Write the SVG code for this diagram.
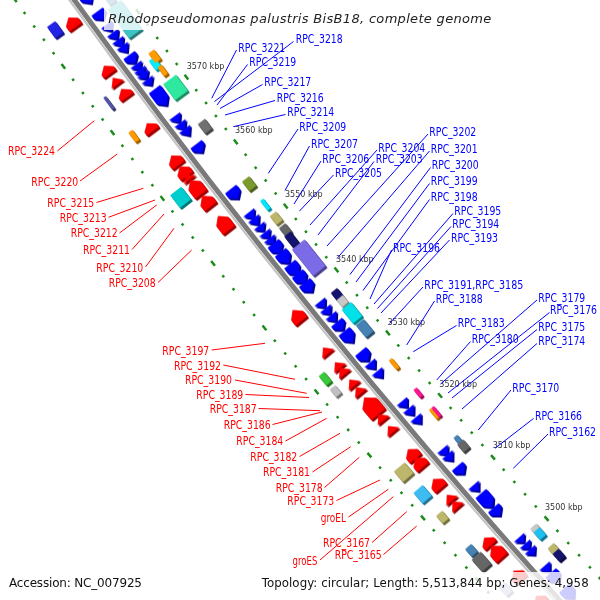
<svg xmlns="http://www.w3.org/2000/svg" width="600" height="600" viewBox="0 0 600 600">
<style>
text{font-family:"DejaVu Sans","Liberation Sans",sans-serif}
.lb{font-family:"Liberation Sans Narrow","Liberation Sans",Arial,sans-serif;font-size:11.5px}
.b{fill:#0000ff}
.r{fill:#ff0000}
.ldb line{stroke:#0000ff;stroke-width:1}
.ldr line{stroke:#ff0000;stroke-width:1}
.tk{font-size:8px;fill:#333}
.rd{fill:#ff0000}
.bl{fill:#0000ff}
.dots{fill:none;stroke:#1a8c1a;stroke-width:2.5}
</style>
<defs>
<filter id="ext" x="-0.1" y="-0.1" width="1.2" height="1.2" color-interpolation-filters="sRGB">
<feColorMatrix in="SourceGraphic" type="matrix" values="0.6 0 0 0 0 0 0.6 0 0 0 0 0 0.6 0 0 0 0 0 1 0" result="dk"/>
<feOffset in="dk" dx="1" dy="1" result="d1"/>
<feOffset in="dk" dx="2" dy="2" result="d2"/>
<feMerge><feMergeNode in="d2"/><feMergeNode in="d1"/><feMergeNode in="SourceGraphic"/></feMerge>
</filter>
<path id="r6" d="M-3 0L3-7.5V7.5Z"/>
<path id="r8" d="M-4 0L4-7.5V7.5Z"/>
<path id="r10" d="M-5 0L1-7.5H5V7.5H1Z"/>
<path id="r12" d="M-6 0L0-7.5H6V7.5H0Z"/>
<path id="r14" d="M-7 0L0-7.5H7V7.5H0Z"/>
<path id="r16" d="M-8 0L-1-7.5H8V7.5H-1Z"/>
<path id="r18" d="M-9 0L-2-7.5H9V7.5H-2Z"/>
<path id="r22" d="M-11 0L-3-9H11V9H-3Z"/>
<path id="b7" d="M3.5 0L-3.5-7V7Z"/>
<path id="b8" d="M4 0L-4-7V7Z"/>
<path id="b10" d="M5 0L-1-7H-5V7H-1Z"/>
<path id="b12" d="M6 0L0-7H-6V7H0Z"/>
<path id="b14" d="M7 0L0-7H-7V7H0Z"/>
<path id="b18" d="M9 0L2-7H-9V7H2Z"/>
<path id="b20" d="M10 0L3-7H-10V7H3Z"/>
</defs>
<rect width="600" height="600" fill="#fff"/>
<g id="map" transform="translate(5899 -4214.5)">
<g id="backbone" fill="none">
<path d="M-5892.36 4119.35A7189.5 7189.5 0 0 0 -5275.85 4884.15" stroke="#7a7a7a" stroke-width="5"/>
<path d="M-5895.64 4121.64A7193.5 7193.5 0 0 0 -5278.79 4886.87" stroke="#c4c4c4" stroke-width="2.2"/>
</g>
<path id="ticks-inner" class="dots" d="M-5855.89 4093.85A7145 7145 0 0 0 -5243.2 4853.92" stroke-dasharray="6 12.034 2.5 13.784 2.5 13.784 2.5 13.784 2.5 12.034" stroke-dashoffset="3"/>
<path id="ticks-outer" class="dots" d="M-5931.7 4146.85A7237.5 7237.5 0 0 0 -5311.08 4916.76" stroke-dasharray="6 12.244 2.5 13.994 2.5 13.994 2.5 13.994 2.5 12.244" stroke-dashoffset="3"/>
<g id="forward-cds" class="rd" filter="url(#ext)">
<use href="#r12" transform="rotate(53.98)translate(0 7204.5)"/>
<use href="#r10" transform="rotate(53.51)translate(0 7204.5)"/>
<use href="#r8" transform="rotate(53.40)translate(0 7204.5)"/>
<use href="#r10" transform="rotate(53.28)translate(0 7204.5)"/>
<use href="#r10" transform="rotate(52.94)translate(0 7204.5)"/>
<use href="#r12" transform="rotate(52.61)translate(0 7204.5)"/>
<use href="#r12" transform="rotate(52.50)translate(0 7204.5)"/>
<use href="#r6" transform="rotate(52.44)translate(0 7204.5)"/>
<use href="#r18" transform="rotate(52.34)translate(0 7204.5)"/>
<use href="#r14" transform="rotate(52.20)translate(0 7204.5)"/>
<use href="#r18" transform="rotate(51.98)translate(0 7204.5)"/>
<use href="#r14" transform="rotate(51.04)translate(0 7204.5)"/>
<use href="#r8" transform="rotate(50.68)translate(0 7204.5)"/>
<use href="#r8" transform="rotate(50.53)translate(0 7204.5)"/>
<use href="#r8" transform="rotate(50.47)translate(0 7204.5)"/>
<use href="#r8" transform="rotate(50.35)translate(0 7204.5)"/>
<use href="#r8" transform="rotate(50.27)translate(0 7204.5)"/>
<use href="#r22" transform="rotate(50.11)translate(0 7204.5)"/>
<use href="#r8" transform="rotate(49.99)translate(0 7204.5)"/>
<use href="#r8" transform="rotate(49.87)translate(0 7204.5)"/>
<use href="#r12" transform="rotate(49.61)translate(0 7204.5)"/>
<use href="#r12" transform="rotate(49.52)translate(0 7204.5)"/>
<use href="#r12" transform="rotate(49.30)translate(0 7204.5)"/>
<use href="#r8" transform="rotate(49.15)translate(0 7204.5)"/>
<use href="#r8" transform="rotate(49.08)translate(0 7204.5)"/>
<use href="#r10" transform="rotate(48.69)translate(0 7204.5)"/>
<use href="#r16" transform="rotate(48.58)translate(0 7204.5)"/>
<use href="#r12" transform="rotate(48.33)translate(0 7204.5)"/>
<use href="#r10" transform="rotate(48.07)translate(0 7204.5)"/>
</g>
<g id="reverse-cds" class="bl" filter="url(#ext)">
<use href="#b14" transform="rotate(54.07)translate(0 7178)"/>
<use href="#b10" transform="rotate(53.89)translate(0 7178)"/>
<use href="#b8" transform="rotate(53.77)translate(0 7178)"/>
<use href="#b8" transform="rotate(53.69)translate(0 7178)"/>
<use href="#b8" transform="rotate(53.62)translate(0 7178)"/>
<use href="#b8" transform="rotate(53.56)translate(0 7178)"/>
<use href="#b10" transform="rotate(53.46)translate(0 7178)"/>
<use href="#b7" transform="rotate(53.38)translate(0 7178)"/>
<use href="#b7" transform="rotate(53.33)translate(0 7178)"/>
<use href="#b7" transform="rotate(53.29)translate(0 7178)"/>
<use href="#b7" transform="rotate(53.23)translate(0 7178)"/>
<use href="#b20" transform="rotate(53.08)translate(0 7178)"/>
<use href="#b8" transform="rotate(52.86)translate(0 7178)"/>
<use href="#b8" transform="rotate(52.79)translate(0 7178)"/>
<use href="#b8" transform="rotate(52.73)translate(0 7178)"/>
<use href="#b10" transform="rotate(52.57)translate(0 7178)"/>
<use href="#b12" transform="rotate(52.11)translate(0 7178)"/>
<use href="#b8" transform="rotate(51.89)translate(0 7178)"/>
<use href="#b8" transform="rotate(51.83)translate(0 7178)"/>
<use href="#b7" transform="rotate(51.76)translate(0 7178)"/>
<use href="#b7" transform="rotate(51.69)translate(0 7178)"/>
<use href="#b7" transform="rotate(51.63)translate(0 7178)"/>
<use href="#b12" transform="rotate(51.56)translate(0 7178)"/>
<use href="#b14" transform="rotate(51.46)translate(0 7178)"/>
<use href="#b14" transform="rotate(51.34)translate(0 7178)"/>
<use href="#b12" transform="rotate(51.25)translate(0 7178)"/>
<use href="#b12" transform="rotate(51.16)translate(0 7178)"/>
<use href="#b8" transform="rotate(50.98)translate(0 7178)"/>
<use href="#b8" transform="rotate(50.91)translate(0 7178)"/>
<use href="#b8" transform="rotate(50.84)translate(0 7178)"/>
<use href="#b10" transform="rotate(50.76)translate(0 7178)"/>
<use href="#b14" transform="rotate(50.65)translate(0 7178)"/>
<use href="#b12" transform="rotate(50.45)translate(0 7178)"/>
<use href="#b8" transform="rotate(50.35)translate(0 7178)"/>
<use href="#b8" transform="rotate(50.26)translate(0 7178)"/>
<use href="#b8" transform="rotate(49.95)translate(0 7178)"/>
<use href="#b8" transform="rotate(49.87)translate(0 7178)"/>
<use href="#b8" transform="rotate(49.78)translate(0 7178)"/>
<use href="#b8" transform="rotate(49.45)translate(0 7178)"/>
<use href="#b8" transform="rotate(49.39)translate(0 7178)"/>
<use href="#b10" transform="rotate(49.26)translate(0 7178)"/>
<use href="#b8" transform="rotate(49.07)translate(0 7178)"/>
<use href="#b18" transform="rotate(48.94)translate(0 7178)"/>
<use href="#b10" transform="rotate(48.82)translate(0 7178)"/>
<use href="#b7" transform="rotate(48.52)translate(0 7178)"/>
<use href="#b7" transform="rotate(48.45)translate(0 7178)"/>
<use href="#b7" transform="rotate(48.39)translate(0 7178)"/>
<use href="#b8" transform="rotate(48.21)translate(0 7178)"/>
<use href="#b12" transform="rotate(48.12)translate(0 7178)"/>
<use href="#b14" transform="rotate(47.95)translate(0 7178)"/>
</g>
<g id="cog-inner" filter="url(#ext)">
<rect x="-18" y="-8" width="36" height="16" fill="#3cc4c4" transform="rotate(53.75)translate(0 7160)"/>
<rect x="-5" y="-4" width="10" height="8" fill="#4682b4" transform="rotate(53.95)translate(0 7160)"/>
<rect x="-6" y="-3.5" width="12" height="7" fill="#00eeff" transform="rotate(53.32)translate(0 7162)"/>
<rect x="-6" y="-3.5" width="12" height="7" fill="#ff9a00" transform="rotate(53.37)translate(0 7158)"/>
<rect x="-5.5" y="-2.5" width="11" height="5" fill="#ff9a00" transform="rotate(53.24)translate(0 7160)"/>
<rect x="-10" y="-8" width="20" height="16" fill="#2ee8a0" transform="rotate(53.07)translate(0 7160)"/>
<rect x="-6" y="-4.5" width="12" height="9" fill="#707070" transform="rotate(52.68)translate(0 7160)"/>
<rect x="-6" y="-4.5" width="12" height="9" fill="#7b9a2e" transform="rotate(52.10)translate(0 7160)"/>
<rect x="-6" y="-2" width="12" height="4" fill="#00e8ff" transform="rotate(51.89)translate(0 7160)"/>
<rect x="-5.5" y="-4" width="11" height="8" fill="#bdb76b" transform="rotate(51.75)translate(0 7160)"/>
<rect x="-5.5" y="-4" width="11" height="8" fill="#666" transform="rotate(51.63)translate(0 7160)"/>
<rect x="-17" y="-8" width="34" height="16" fill="#7b6be6" transform="rotate(51.34)translate(0 7159)"/>
<rect x="-7" y="-4" width="14" height="8" fill="#14146e" transform="rotate(51.54)translate(0 7161)"/>
<rect x="-5" y="-4" width="10" height="8" fill="#14146e" transform="rotate(50.97)translate(0 7160)"/>
<rect x="-4.5" y="-4" width="9" height="8" fill="#c8c8c8" transform="rotate(50.90)translate(0 7160)"/>
<rect x="-9" y="-6" width="18" height="12" fill="#00e0e8" transform="rotate(50.78)translate(0 7160)"/>
<rect x="-8" y="-5" width="16" height="10" fill="#4682b4" transform="rotate(50.62)translate(0 7160)"/>
<rect x="-6" y="-2" width="12" height="4" fill="#ff9a00" transform="rotate(50.25)translate(0 7160)"/>
<rect x="-5" y="-2" width="10" height="4" fill="#ff1493" transform="rotate(49.95)translate(0 7160)"/>
<rect x="-6" y="-1.5" width="12" height="3" fill="#ff9a00" transform="rotate(49.74)translate(0 7161.5)"/>
<rect x="-6" y="-1.5" width="12" height="3" fill="#ff1493" transform="rotate(49.74)translate(0 7158.3)"/>
<rect x="-5" y="-2.5" width="10" height="5" fill="#4682b4" transform="rotate(49.45)translate(0 7160)"/>
<rect x="-5" y="-4" width="10" height="8" fill="#666" transform="rotate(49.39)translate(0 7160)"/>
<rect x="-5" y="-4" width="10" height="8" fill="#c8c8c8" transform="rotate(48.50)translate(0 7160)"/>
<rect x="-5" y="-4" width="10" height="8" fill="#1ec0f0" transform="rotate(48.46)translate(0 7160)"/>
<rect x="-5" y="-4" width="10" height="8" fill="#bdb76b" transform="rotate(48.29)translate(0 7160)"/>
<rect x="-5" y="-4" width="10" height="8" fill="#14146e" transform="rotate(48.23)translate(0 7160)"/>
</g>
<g id="cog-outer" filter="url(#ext)">
<rect x="-7" y="-5" width="14" height="10" fill="#2323e6" transform="rotate(54.01)translate(0 7222.5)"/>
<rect x="-7.5" y="-1.5" width="15" height="3" fill="#5555aa" transform="rotate(53.29)translate(0 7222.5)"/>
<rect x="-6" y="-2.5" width="12" height="5" fill="#ff9a00" transform="rotate(52.96)translate(0 7222.5)"/>
<rect x="-8" y="-7" width="16" height="14" fill="#00cdcd" transform="rotate(52.35)translate(0 7222.5)"/>
<rect x="-6" y="-3.5" width="12" height="7" fill="#3cc83c" transform="rotate(50.51)translate(0 7222.5)"/>
<rect x="-5" y="-3.5" width="10" height="7" fill="#c0c0c0" transform="rotate(50.38)translate(0 7222.5)"/>
<rect x="-7" y="-7" width="14" height="14" fill="#bdb76b" transform="rotate(49.54)translate(0 7222.5)"/>
<rect x="-7" y="-6" width="14" height="12" fill="#3cbcf0" transform="rotate(49.31)translate(0 7222.5)"/>
<rect x="-5" y="-4" width="10" height="8" fill="#bdb76b" transform="rotate(49.07)translate(0 7222.5)"/>
<rect x="-5" y="-4" width="10" height="8" fill="#4682b4" transform="rotate(48.72)translate(0 7222.5)"/>
<rect x="-8" y="-6" width="16" height="12" fill="#666" transform="rotate(48.60)translate(0 7222.5)"/>
<rect x="-6" y="-4" width="12" height="8" fill="#a8b4d0" transform="rotate(48.31)translate(0 7222.5)"/>
</g>
</g>
<g id="tick-labels" class="tk">
<text x="186.7" y="69">3570 kbp</text>
<text x="235" y="133.3">3560 kbp</text>
<text x="285" y="197.3">3550 kbp</text>
<text x="336" y="262.3">3540 kbp</text>
<text x="387.5" y="324.5">3530 kbp</text>
<text x="439.3" y="386.7">3520 kbp</text>
<text x="492.7" y="448.3">3510 kbp</text>
<text x="545" y="510">3500 kbp</text>
</g>
<g id="connectors">
<g class="ldb">
<line x1="293.5" y1="41.5" x2="214.5" y2="101.5"/>
<line x1="236.5" y1="50" x2="211.7" y2="98.3"/>
<line x1="247.5" y1="64.5" x2="217" y2="105"/>
<line x1="262.5" y1="84.5" x2="220" y2="108.5"/>
<line x1="275" y1="100.5" x2="225" y2="115"/>
<line x1="285.5" y1="114.5" x2="233.3" y2="126.7"/>
<line x1="298" y1="129" x2="268.3" y2="173.3"/>
<line x1="309.5" y1="146" x2="285" y2="190.5"/>
<line x1="321" y1="161" x2="294" y2="204"/>
<line x1="333.5" y1="175" x2="299.5" y2="211"/>
<line x1="377" y1="150" x2="310" y2="225"/>
<line x1="374" y1="161.5" x2="318" y2="235"/>
<line x1="428" y1="134" x2="327" y2="246"/>
<line x1="429.5" y1="151" x2="337" y2="258.5"/>
<line x1="430.5" y1="167.5" x2="350" y2="274.5"/>
<line x1="429.5" y1="183.5" x2="356" y2="282"/>
<line x1="429.5" y1="199.5" x2="363" y2="290.5"/>
<line x1="391.5" y1="250" x2="370" y2="299"/>
<line x1="453" y1="213.5" x2="374" y2="304"/>
<line x1="451" y1="226.5" x2="377.5" y2="308.5"/>
<line x1="449.5" y1="240" x2="381" y2="313"/>
<line x1="423" y1="287" x2="389.5" y2="323.5"/>
<line x1="434.5" y1="301" x2="406.7" y2="345"/>
<line x1="456.5" y1="325.5" x2="413.3" y2="351.7"/>
<line x1="470.5" y1="341.5" x2="436.7" y2="380"/>
<line x1="537" y1="300" x2="440.5" y2="384"/>
<line x1="549.5" y1="312.5" x2="448" y2="393"/>
<line x1="537" y1="329.5" x2="452" y2="398"/>
<line x1="537" y1="343.5" x2="462" y2="409"/>
<line x1="511" y1="390" x2="478.3" y2="430"/>
<line x1="533.5" y1="418.5" x2="495" y2="448.3"/>
<line x1="548" y1="434" x2="513.3" y2="468.3"/>
</g>
<g class="ldr">
<line x1="57.3" y1="151" x2="94.3" y2="120.7"/>
<line x1="80" y1="181" x2="117.3" y2="154"/>
<line x1="96.5" y1="202.5" x2="143.3" y2="188.3"/>
<line x1="108.5" y1="217.3" x2="155" y2="200"/>
<line x1="119.5" y1="233" x2="156.7" y2="205"/>
<line x1="132" y1="249.5" x2="164" y2="214"/>
<line x1="145.5" y1="267" x2="174" y2="228.3"/>
<line x1="158" y1="282.5" x2="191.7" y2="250"/>
<line x1="211.7" y1="350" x2="265" y2="343.3"/>
<line x1="223.3" y1="365" x2="295" y2="379.3"/>
<line x1="235" y1="380" x2="306.7" y2="393.3"/>
<line x1="245.5" y1="394.5" x2="309" y2="397.5"/>
<line x1="258.5" y1="408.5" x2="320" y2="410.7"/>
<line x1="272.5" y1="424.5" x2="322" y2="412"/>
<line x1="285.5" y1="441" x2="326.7" y2="418.3"/>
<line x1="299.5" y1="456.5" x2="340" y2="433.3"/>
<line x1="312.5" y1="472" x2="350.7" y2="446.7"/>
<line x1="324.5" y1="487.5" x2="359.3" y2="457.3"/>
<line x1="336.5" y1="500.5" x2="380" y2="480"/>
<line x1="348.5" y1="517" x2="388.3" y2="489.3"/>
<line x1="372" y1="542.5" x2="406.7" y2="511.7"/>
<line x1="383.5" y1="554.5" x2="416.7" y2="526"/>
<line x1="320" y1="560" x2="393.3" y2="496.7"/>
</g>
</g>
<g id="labels-reverse" class="lb b">
<text x="295.7" y="43.3" textLength="47" lengthAdjust="spacingAndGlyphs">RPC_3218</text>
<text x="238.3" y="51.7" textLength="47" lengthAdjust="spacingAndGlyphs">RPC_3221</text>
<text x="249.3" y="66" textLength="47" lengthAdjust="spacingAndGlyphs">RPC_3219</text>
<text x="264.3" y="86" textLength="47" lengthAdjust="spacingAndGlyphs">RPC_3217</text>
<text x="276.7" y="102.3" textLength="47" lengthAdjust="spacingAndGlyphs">RPC_3216</text>
<text x="287.3" y="116" textLength="47" lengthAdjust="spacingAndGlyphs">RPC_3214</text>
<text x="299.3" y="131" textLength="47" lengthAdjust="spacingAndGlyphs">RPC_3209</text>
<text x="311" y="147.7" textLength="47" lengthAdjust="spacingAndGlyphs">RPC_3207</text>
<text x="322.3" y="162.7" textLength="47" lengthAdjust="spacingAndGlyphs">RPC_3206</text>
<text x="335" y="176.7" textLength="47" lengthAdjust="spacingAndGlyphs">RPC_3205</text>
<text x="378.3" y="151.7" textLength="47" lengthAdjust="spacingAndGlyphs">RPC_3204</text>
<text x="375.7" y="163.3" textLength="47" lengthAdjust="spacingAndGlyphs">RPC_3203</text>
<text x="429.3" y="136" textLength="47" lengthAdjust="spacingAndGlyphs">RPC_3202</text>
<text x="430.7" y="152.7" textLength="47" lengthAdjust="spacingAndGlyphs">RPC_3201</text>
<text x="431.7" y="169.3" textLength="47" lengthAdjust="spacingAndGlyphs">RPC_3200</text>
<text x="430.7" y="185" textLength="47" lengthAdjust="spacingAndGlyphs">RPC_3199</text>
<text x="430.7" y="201" textLength="47" lengthAdjust="spacingAndGlyphs">RPC_3198</text>
<text x="393" y="251.7" textLength="47" lengthAdjust="spacingAndGlyphs">RPC_3196</text>
<text x="454.3" y="215.3" textLength="47" lengthAdjust="spacingAndGlyphs">RPC_3195</text>
<text x="452.3" y="228.3" textLength="47" lengthAdjust="spacingAndGlyphs">RPC_3194</text>
<text x="451" y="242" textLength="47" lengthAdjust="spacingAndGlyphs">RPC_3193</text>
<text x="424.3" y="288.7" textLength="99" lengthAdjust="spacingAndGlyphs">RPC_3191,RPC_3185</text>
<text x="435.7" y="302.7" textLength="47" lengthAdjust="spacingAndGlyphs">RPC_3188</text>
<text x="457.7" y="327" textLength="47" lengthAdjust="spacingAndGlyphs">RPC_3183</text>
<text x="471.7" y="343" textLength="47" lengthAdjust="spacingAndGlyphs">RPC_3180</text>
<text x="538.3" y="301.7" textLength="47" lengthAdjust="spacingAndGlyphs">RPC_3179</text>
<text x="550" y="314.3" textLength="47" lengthAdjust="spacingAndGlyphs">RPC_3176</text>
<text x="538.3" y="331" textLength="47" lengthAdjust="spacingAndGlyphs">RPC_3175</text>
<text x="538.3" y="345.3" textLength="47" lengthAdjust="spacingAndGlyphs">RPC_3174</text>
<text x="512.3" y="391.7" textLength="47" lengthAdjust="spacingAndGlyphs">RPC_3170</text>
<text x="535" y="420" textLength="47" lengthAdjust="spacingAndGlyphs">RPC_3166</text>
<text x="549" y="435.7" textLength="47" lengthAdjust="spacingAndGlyphs">RPC_3162</text>
</g>
<g id="labels-forward" class="lb r" text-anchor="end">
<text x="55" y="155" textLength="47" lengthAdjust="spacingAndGlyphs">RPC_3224</text>
<text x="78.3" y="186" textLength="47" lengthAdjust="spacingAndGlyphs">RPC_3220</text>
<text x="94.3" y="206.7" textLength="47" lengthAdjust="spacingAndGlyphs">RPC_3215</text>
<text x="106.7" y="221.7" textLength="47" lengthAdjust="spacingAndGlyphs">RPC_3213</text>
<text x="117.7" y="237.3" textLength="47" lengthAdjust="spacingAndGlyphs">RPC_3212</text>
<text x="130" y="254" textLength="47" lengthAdjust="spacingAndGlyphs">RPC_3211</text>
<text x="143.3" y="271.7" textLength="47" lengthAdjust="spacingAndGlyphs">RPC_3210</text>
<text x="155.7" y="286.7" textLength="47" lengthAdjust="spacingAndGlyphs">RPC_3208</text>
<text x="209.3" y="355" textLength="47" lengthAdjust="spacingAndGlyphs">RPC_3197</text>
<text x="221" y="370" textLength="47" lengthAdjust="spacingAndGlyphs">RPC_3192</text>
<text x="232" y="384.3" textLength="47" lengthAdjust="spacingAndGlyphs">RPC_3190</text>
<text x="243.3" y="399.3" textLength="47" lengthAdjust="spacingAndGlyphs">RPC_3189</text>
<text x="256.7" y="412.7" textLength="47" lengthAdjust="spacingAndGlyphs">RPC_3187</text>
<text x="270.7" y="429" textLength="47" lengthAdjust="spacingAndGlyphs">RPC_3186</text>
<text x="283.3" y="445.3" textLength="47" lengthAdjust="spacingAndGlyphs">RPC_3184</text>
<text x="297.3" y="461" textLength="47" lengthAdjust="spacingAndGlyphs">RPC_3182</text>
<text x="310" y="476.3" textLength="47" lengthAdjust="spacingAndGlyphs">RPC_3181</text>
<text x="322.7" y="492" textLength="47" lengthAdjust="spacingAndGlyphs">RPC_3178</text>
<text x="334.3" y="505" textLength="47" lengthAdjust="spacingAndGlyphs">RPC_3173</text>
<text x="346" y="521.7" textLength="25.3" lengthAdjust="spacingAndGlyphs">groEL</text>
<text x="370" y="547" textLength="47" lengthAdjust="spacingAndGlyphs">RPC_3167</text>
<text x="381.7" y="559.3" textLength="47" lengthAdjust="spacingAndGlyphs">RPC_3165</text>
<text x="317.3" y="565.3" textLength="24.7" lengthAdjust="spacingAndGlyphs">groES</text>
</g>
<g id="title">
<rect x="104" y="0" width="392" height="30" fill="#fff" fill-opacity="0.8"/>
<text x="108.3" y="23" font-size="13" font-style="italic" fill="#222" textLength="383">Rhodopseudomonas palustris BisB18, complete genome</text>
</g>
<g id="legend">
<rect x="257" y="572" width="338" height="28" fill="#fff" fill-opacity="0.8"/>
<text x="9" y="587" font-size="12" fill="#111" textLength="133">Accession: NC_007925</text>
<text x="261.7" y="587" font-size="11.8" fill="#111" textLength="327">Topology: circular; Length: 5,513,844 bp; Genes: 4,958</text>
</g>
</svg>
